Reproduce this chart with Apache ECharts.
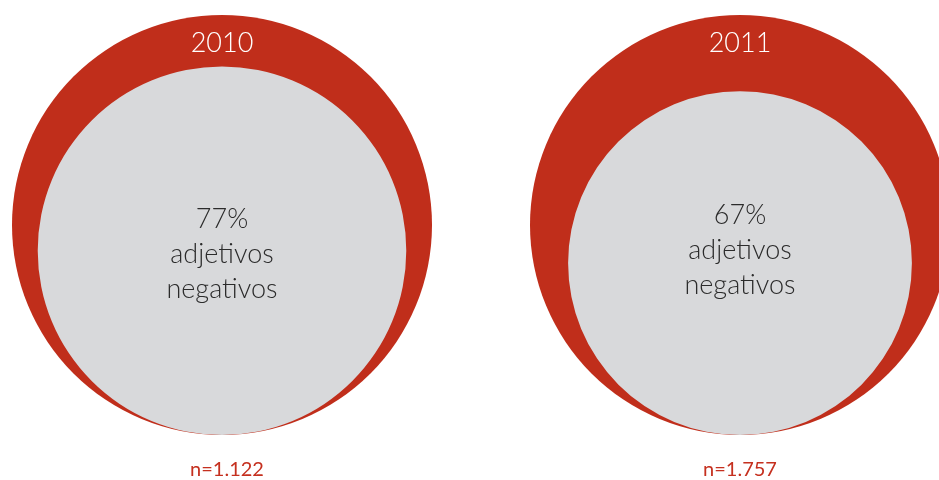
<!DOCTYPE html>
<html>
<head>
<meta charset="utf-8">
<script src="https://cdn.jsdelivr.net/npm/echarts@6/dist/echarts.min.js"></script>
<style>
  html, body { margin: 0; padding: 0; background: #fff; }
  #main { width: 939px; height: 480px; }
</style>
</head>
<body>
<div id="main"></div>
<script>
// datos
var years = ['2010', '2011'];
var negPct = [77, 67];
var sampleN = ['n=1.122', 'n=1.757'];

var RED = '#c02e1b';
var GRAY = '#d8d9db';
var FONT = 'Lato';

var outerR = 210;
var centersX = [222, 740];
var outerY = 225;
var textOffsets = [[0, 4], [0, -13]];

var myChart = echarts.init(document.getElementById('main'));

var series = [];
var graphics = [];
for (var i = 0; i < years.length; i++) {
    // circulo exterior = 100%
    series.push({
        type: 'pie',
        silent: true,
        center: [centersX[i], outerY],
        radius: [0, outerR],
        label: { show: false },
        labelLine: { show: false },
        itemStyle: { color: RED },
        emphasis: { disabled: true },
        data: [{ value: 100, name: years[i] }]
    });
    // circulo interior, area proporcional al porcentaje, tangente abajo
    var innerR = outerR * Math.sqrt(negPct[i] / 100);
    series.push({
        type: 'pie',
        silent: true,
        center: [centersX[i], outerY + outerR - innerR],
        radius: [0, innerR],
        itemStyle: { color: GRAY },
        emphasis: { disabled: true },
        labelLine: { show: false },
        label: {
            show: true,
            position: 'center',
            offset: textOffsets[i],
            formatter: negPct[i] + '%\nadjetivos\nnegativos',
            color: '#2b2b2b',
            fontFamily: FONT,
            fontWeight: 300,
            fontSize: 27,
            lineHeight: 35
        },
        data: [{ value: negPct[i], name: 'adjetivos negativos' }]
    });
    graphics.push({
        type: 'text',
        z: 100,
        x: centersX[i],
        y: 43,
        style: {
            text: years[i],
            fill: '#fff',
            font: '300 27px ' + FONT,
            textAlign: 'center',
            textVerticalAlign: 'middle'
        }
    });
    graphics.push({
        type: 'text',
        z: 100,
        x: centersX[i] + (i === 0 ? 5 : 0),
        y: 470,
        style: {
            text: sampleN[i],
            fill: '#c5301f',
            font: '400 20px ' + FONT,
            textAlign: 'center',
            textVerticalAlign: 'middle'
        }
    });
}

var option = {
    animation: false,
    series: series,
    graphic: graphics
};
myChart.setOption(option);
</script>
</body>
</html>
